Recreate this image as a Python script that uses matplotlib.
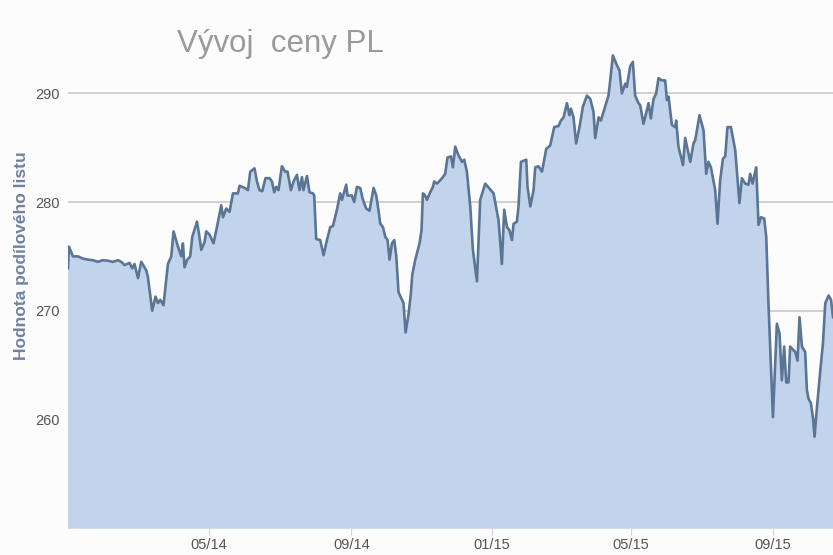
import datetime as dt
import matplotlib
matplotlib.use("Agg")
import matplotlib.pyplot as plt
import matplotlib.dates as mdates

# days counted from 1 Jan 2014, values of the fund unit
days = [-2.3, -1.5, 2.0, 6.3, 10.6, 15.0, 19.3, 23.6, 28.0, 32.3, 36.6, 41.0, 43.8, 46.7,
        51.0, 53.3, 55.3, 58.3, 61.1, 65.5, 66.9, 69.8, 70.6, 73.5, 75.6, 77.6, 80.4, 84.2,
        87.1, 89.1, 92.9, 95.8, 97.2, 98.6, 100.7, 103.5, 105.3, 109.4, 111.1, 113.1, 115.9,
        117.4, 120.3, 123.7, 126.1, 130.4, 131.9, 134.7, 137.6, 140.5, 144.8, 146.2, 150.6,
        153.5, 155.5, 159.2, 161.3, 163.5, 165.9, 168.7,
        172.2, 174.3, 176.3, 178.0, 180.0, 182.9, 185.8, 187.8, 190.7, 193.0, 195.9, 198.2,
        200.3, 201.6, 204.6, 206.8, 209.8, 210.9, 212.6, 216.1, 219.0, 221.9, 224.8, 227.1,
        230.6, 233.4, 234.9, 238.6, 239.7, 243.5, 245.5, 247.9, 250.7, 253.1, 255.9, 258.8,
        262.3, 264.6, 266.6, 268.1, 270.4, 272.4, 274.4, 276.1, 278.2, 280.2, 281.9, 283.9,
        288.2, 290.0, 292.6, 294.6, 295.8, 298.4, 302.1, 303.8, 305.0, 307.0, 308.5, 311.3,
        313.7, 314.8, 317.1, 320.0, 322.3, 324.3, 326.3, 329.3, 331.0, 333.0, 335.8,
        338.8, 340.8, 343.1, 346.0, 348.3, 351.8, 354.6, 359.0, 366.2, 370.5, 373.4, 375.4,
        377.8, 380.0, 382.1, 383.5, 386.4, 387.8, 389.9, 394.5, 395.6, 398.0, 400.8, 402.3,
        405.1, 408.1, 411.8, 415.2, 418.7, 422.4, 424.5, 426.8, 429.7, 431.9, 433.2, 435.4,
        437.7, 440.6, 443.6, 447.0, 449.9, 452.7, 454.2, 457.1, 459.1, 461.4, 465.7, 467.2,
        469.5, 473.0, 475.2, 477.3, 480.2, 481.6, 484.5, 486.8, 488.8, 491.7,
        493.2, 496.0, 500.4, 502.4, 504.7, 507.0, 509.0, 511.9, 514.8, 516.3, 517.7, 520.6,
        523.5, 524.3, 526.3, 530.2, 532.1, 536.5, 539.3, 540.8, 544.5, 548.0, 550.3, 552.3,
        554.4, 558.1, 560.1, 562.4, 564.8, 566.8, 568.7, 571.7, 575.4, 579.1, 581.2, 584.1,
        586.9, 588.4, 590.4, 593.6, 595.6, 597.7, 600.5, 602.3, 604.2, 608.1, 611.5, 613.8,
        615.8, 617.8, 619.6, 621.6, 623.0, 627.4, 629.4, 631.1, 633.2, 636.0, 637.5, 638.9,
        640.9, 642.7, 644.1, 646.2, 649.1, 651.4, 653.4, 656.3, 658.4, 660.1]

values = [273.9, 275.9, 275.0, 275.0, 274.8, 274.7, 274.65, 274.5, 274.65, 274.6, 274.5, 274.65,
          274.5, 274.2, 274.4, 273.9, 274.3, 273.0, 274.5, 273.7, 273.1, 270.7, 270.0, 271.3,
          270.7, 271.0, 270.5, 274.3, 275.0, 277.3, 275.9, 275.0, 276.2, 274.0, 274.65, 275.0,
          276.8, 278.2, 277.1, 275.6, 276.3, 277.3, 277.0, 276.2, 277.4, 279.7, 278.6, 279.4,
          279.1, 280.8, 280.8, 281.5, 281.3, 281.1, 282.8, 283.1, 281.9, 281.1, 281.0, 282.2,
          282.2, 281.9, 280.9, 281.4, 281.1, 283.3, 282.8, 282.8, 281.1, 281.9, 282.5, 281.1,
          282.3, 281.1, 282.4, 280.9, 280.8, 280.6, 276.6, 276.5, 275.1, 276.5, 277.7, 277.8,
          279.3, 280.8, 280.2, 281.6, 280.6, 280.6, 280.0, 281.4, 281.3, 280.2, 279.4, 279.2,
          281.3, 280.6, 279.2, 278.0, 277.7, 276.8, 276.5, 274.7, 276.2, 276.5, 275.1, 271.7,
          270.7, 268.0, 269.7, 271.6, 273.3, 274.7, 276.2, 277.4, 280.8, 280.6, 280.2, 280.9,
          281.4, 281.9, 281.7, 282.0, 282.3, 282.6, 284.1, 284.2, 283.2, 285.1, 284.3,
          283.7, 283.9, 282.8, 279.6, 275.6, 272.7, 280.2, 281.7, 280.8, 278.3, 274.3, 279.3,
          277.7, 277.4, 276.5, 278.0, 278.2, 279.6, 283.7, 283.9, 281.4, 279.6, 281.1, 283.2,
          283.3, 282.8, 284.9, 285.2, 286.9, 287.0, 287.5, 287.8, 289.1, 288.0, 288.6, 287.8,
          285.4, 286.9, 288.8, 289.8, 289.5, 288.3, 285.9, 287.8, 287.5, 288.3, 289.8, 291.2,
          293.5, 292.6, 292.1, 290.0, 290.9, 290.6, 292.5, 292.9, 289.8, 289.1,
          288.9, 287.2, 289.1, 287.7, 289.5, 290.0, 291.4, 291.2, 291.2, 289.4, 289.7, 287.1,
          286.9, 287.5, 285.1, 283.4, 285.9, 283.7, 285.4, 285.7, 288.0, 286.6, 282.6, 283.7,
          283.2, 281.1, 278.0, 282.0, 284.0, 284.2, 286.9, 286.9, 284.8, 279.9, 282.2, 281.7,
          281.6, 282.6, 281.7, 283.2, 277.9, 278.6, 278.5, 276.8, 270.7, 260.2, 268.8, 267.9,
          263.6, 266.7, 263.4, 263.4, 266.7, 266.2, 265.4, 269.4, 266.7, 266.2, 262.7, 261.9,
          261.5, 260.2, 258.4, 261.1, 264.5, 267.0, 270.7, 271.4, 271.0, 269.4]

yticks = [260, 270, 280, 290]
xtick_months = ["2014-05-01", "2014-09-01", "2015-01-01", "2015-05-01", "2015-09-01"]

start = mdates.date2num(dt.datetime(2014, 1, 1))
x = [start + d for d in days]

font = ["Liberation Sans", "DejaVu Sans"]

fig = plt.figure(figsize=(8.33, 5.55), dpi=100, facecolor="#fcfcfc")
ax = fig.add_axes([68 / 833, 27 / 555, 1 - 68 / 833, 1 - 27 / 555])
ax.set_facecolor("#fcfcfc")

ax.fill_between(x, values, 240, color="#c2d4ec", lw=0, zorder=2)
ax.plot(x, values, color="#5b7595", lw=1.9, zorder=3)

ax.set_ylim(250, 298.6)
ax.set_xlim(x[0], x[-1])
ax.set_yticks(yticks)
ax.grid(axis="y", color="#c4c4c4", lw=1.1, zorder=1)
ax.set_xticks([mdates.date2num(dt.datetime.fromisoformat(m)) for m in xtick_months])
ax.xaxis.set_major_formatter(mdates.DateFormatter("%m/%y"))

for s in ["top", "right", "left"]:
    ax.spines[s].set_visible(False)
ax.spines["bottom"].set_color("#d4dcea")
ax.tick_params(axis="y", length=0, pad=6, labelsize=10.5, labelcolor="#555555")
ax.tick_params(axis="x", length=5, color="#c8d3e6", pad=2, labelsize=10.5, labelcolor="#555555")
for lbl in ax.get_xticklabels() + ax.get_yticklabels():
    lbl.set_family(font)

fig.text(0.337, 1 - 52 / 555, "Vývoj  ceny PL", fontsize=22.5, color="#9a9a9a",
         family=font, ha="center", va="baseline")
fig.text(22 / 833, 1 - 256 / 555, "Hodnota podílového listu", rotation=90,
         fontsize=12.5, fontweight="bold", color="#6f82a0", family=font,
         ha="center", va="center")

fig.savefig("out.png", dpi=100, facecolor=fig.get_facecolor())
